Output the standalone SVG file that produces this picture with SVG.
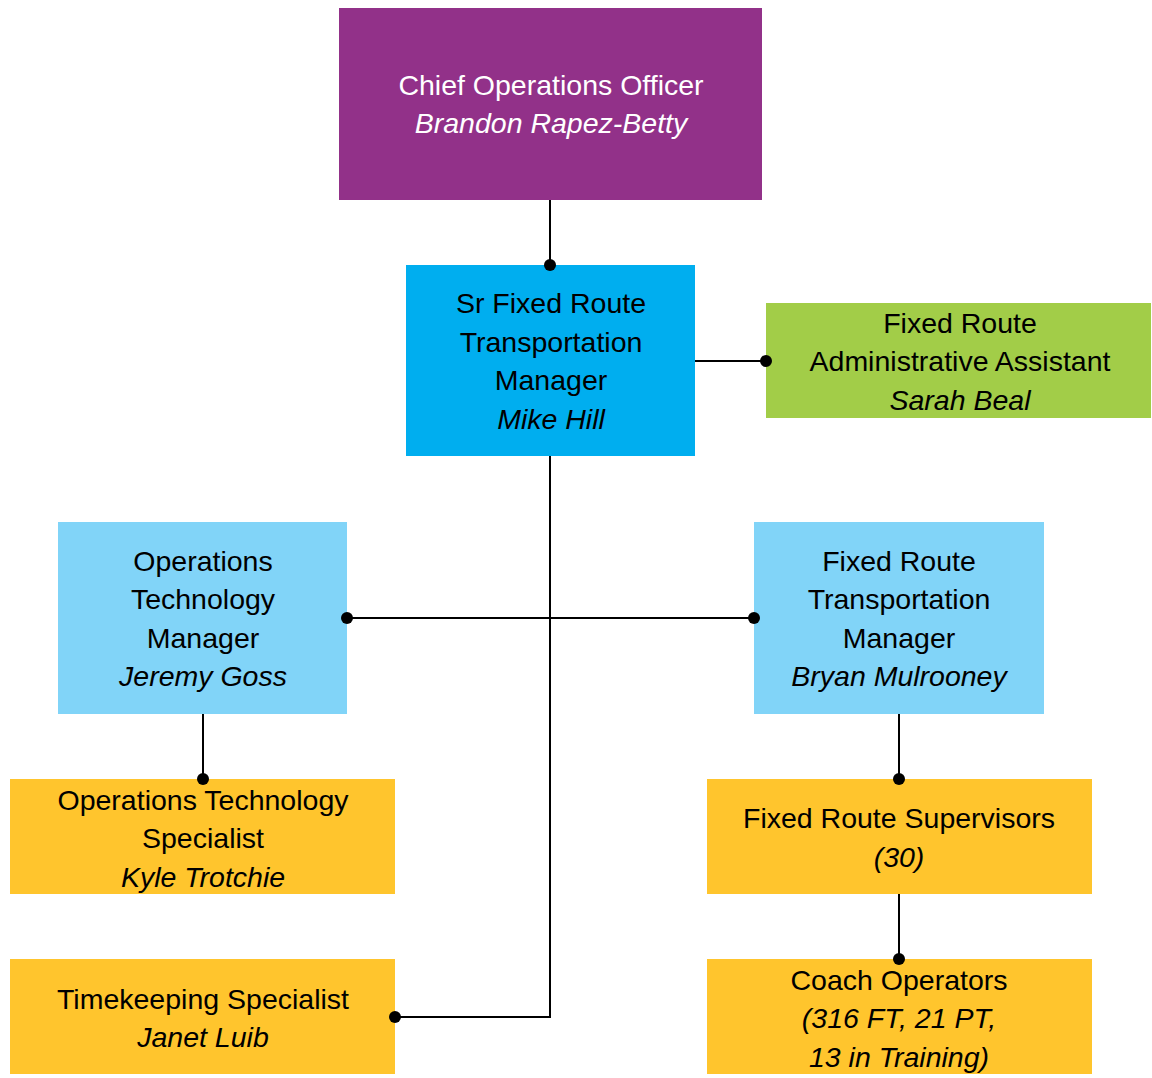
<svg xmlns="http://www.w3.org/2000/svg" width="1152" height="1078" viewBox="0 0 1152 1078">
<style>
text{font-family:"Liberation Sans",Arial,sans-serif;font-size:28.5px;text-anchor:middle;fill:#000}
.i{font-style:italic}
.w{fill:#fff}
.c{fill:none;stroke:#000;stroke-width:2}
.d{fill:#000}
</style>
<rect width="1152" height="1078" fill="#fff"/>
<g id="coo">
<rect x="339" y="8" width="423" height="192" fill="#923189"/>
<text class="w" x="551" y="94.5">Chief Operations Officer</text>
<text class="w i" x="551" y="133">Brandon Rapez-Betty</text>
</g>
<g id="sr-manager">
<rect x="406" y="265" width="289" height="191" fill="#00AEEF"/>
<text x="551" y="313">Sr Fixed Route</text>
<text x="551" y="351.5">Transportation</text>
<text x="551" y="390">Manager</text>
<text class="i" x="551" y="428.5">Mike Hill</text>
</g>
<g id="admin">
<rect x="766" y="303" width="385" height="115" fill="#A2CD48"/>
<text x="960" y="332.5">Fixed Route</text>
<text x="960" y="371">Administrative Assistant</text>
<text class="i" x="960" y="409.5">Sarah Beal</text>
</g>
<g id="ops-tech-manager">
<rect x="58" y="522" width="289" height="192" fill="#81D4F8"/>
<text x="203" y="570.5">Operations</text>
<text x="203" y="609">Technology</text>
<text x="203" y="647.5">Manager</text>
<text class="i" x="203" y="686">Jeremy Goss</text>
</g>
<g id="fr-manager">
<rect x="754" y="522" width="290" height="192" fill="#81D4F8"/>
<text x="899" y="570.5">Fixed Route</text>
<text x="899" y="609">Transportation</text>
<text x="899" y="647.5">Manager</text>
<text class="i" x="899" y="686">Bryan Mulrooney</text>
</g>
<g id="ops-tech-specialist">
<rect x="10" y="779" width="385" height="115" fill="#FFC52D"/>
<text x="203" y="809.5">Operations Technology</text>
<text x="203" y="848">Specialist</text>
<text class="i" x="203" y="886.5">Kyle Trotchie</text>
</g>
<g id="timekeeping">
<rect x="10" y="959" width="385" height="115" fill="#FFC52D"/>
<text x="203" y="1008.5">Timekeeping Specialist</text>
<text class="i" x="203" y="1047">Janet Luib</text>
</g>
<g id="supervisors">
<rect x="707" y="779" width="385" height="115" fill="#FFC52D"/>
<text x="899" y="828">Fixed Route Supervisors</text>
<text class="i" x="899" y="866.5">(30)</text>
</g>
<g id="coach-operators">
<rect x="707" y="959" width="385" height="115" fill="#FFC52D"/>
<text x="899" y="989.5">Coach Operators</text>
<text class="i" x="899" y="1028">(316 FT, 21 PT,</text>
<text class="i" x="899" y="1066.5">13 in Training)</text>
</g>
<g id="connectors">
<path class="c" d="M550 200V265"/>
<path class="c" d="M695 361H766"/>
<path class="c" d="M550 456V1017H395"/>
<path class="c" d="M347 618H754"/>
<path class="c" d="M203 714V779"/>
<path class="c" d="M899 714V779"/>
<path class="c" d="M899 894V959"/>
<circle class="d" cx="550" cy="265" r="6"/>
<circle class="d" cx="766" cy="361" r="6"/>
<circle class="d" cx="395" cy="1017" r="6"/>
<circle class="d" cx="347" cy="618" r="6"/>
<circle class="d" cx="754" cy="618" r="6"/>
<circle class="d" cx="203" cy="779" r="6"/>
<circle class="d" cx="899" cy="779" r="6"/>
<circle class="d" cx="899" cy="959" r="6"/>
</g>
</svg>
